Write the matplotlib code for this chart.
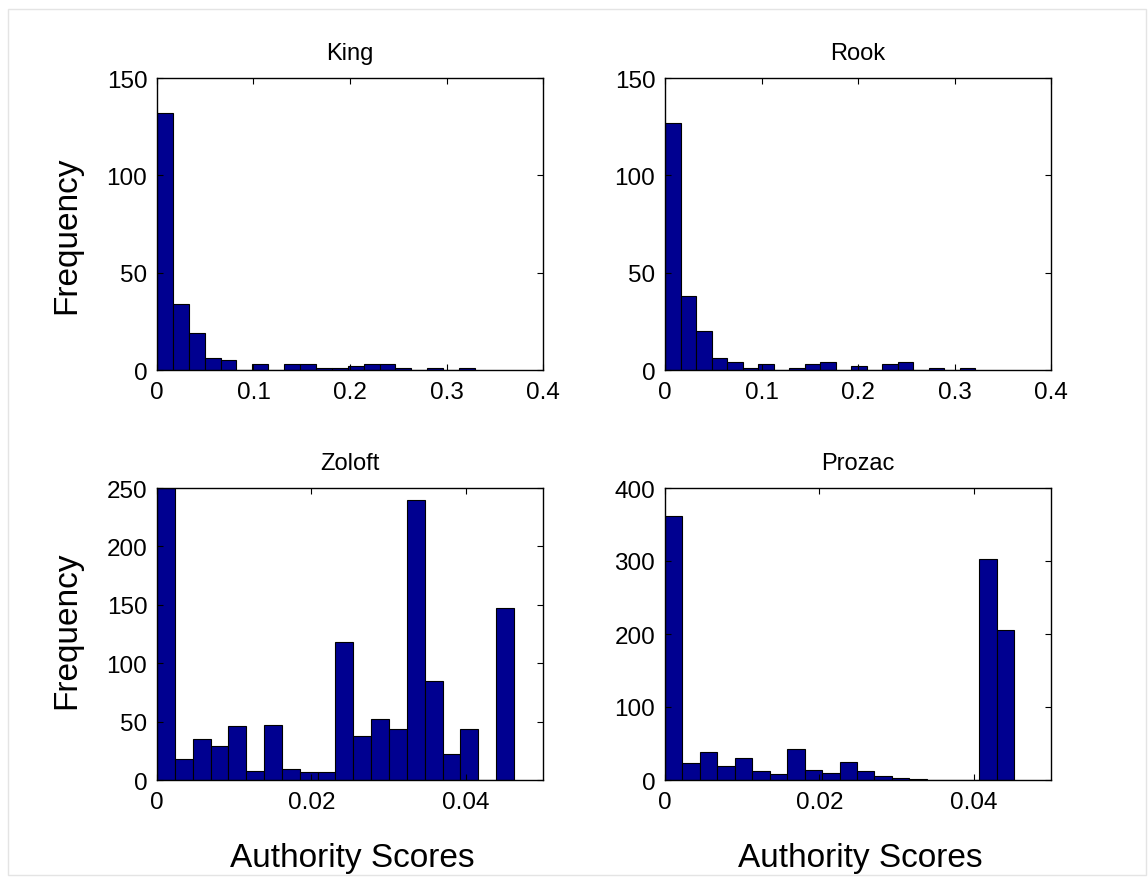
import numpy as np
import matplotlib
matplotlib.use("Agg")
import matplotlib.pyplot as plt
from matplotlib.patches import Rectangle

plt.rcParams['font.family'] = ['Liberation Sans', 'DejaVu Sans']

titles = ["King", "Rook", "Zoloft", "Prozac"]
king_counts = [132, 34, 19, 6, 5, 0, 3, 0, 3, 3, 1, 1, 2, 3, 3, 1, 0, 1, 0, 1]
rook_counts = [127, 38, 20, 6, 4, 1, 3, 0, 1, 3, 4, 0, 2, 0, 3, 4, 0, 1, 0, 1]
zoloft_counts = [250, 18, 35, 29, 46, 8, 47, 9, 7, 7, 118, 38, 52, 44, 240, 85, 22, 44, 0, 147]
prozac_counts = [362, 23, 38, 19, 30, 12, 8, 43, 14, 10, 24, 13, 5, 3, 1, 0, 0, 0, 303, 206]
max_scores = [0.3295, 0.3216, 0.04624, 0.04522]
xlims = [0.4, 0.4, 0.05, 0.05]
ylims = [150, 150, 250, 400]
xticks = [[0, 0.1, 0.2, 0.3, 0.4], [0, 0.1, 0.2, 0.3, 0.4], [0, 0.02, 0.04], [0, 0.02, 0.04]]
xticklabels = [["0", "0.1", "0.2", "0.3", "0.4"], ["0", "0.1", "0.2", "0.3", "0.4"],
               ["0", "0.02", "0.04"], ["0", "0.02", "0.04"]]
yticks = [[0, 50, 100, 150], [0, 50, 100, 150], [0, 50, 100, 150, 200, 250], [0, 100, 200, 300, 400]]
all_counts = [king_counts, rook_counts, zoloft_counts, prozac_counts]

W, H = 1148, 878
fig = plt.figure(figsize=(W / 100, H / 100), dpi=100)
fig.patches.append(Rectangle((8 / W, 2 / H), 1138 / W, 866 / H, transform=fig.transFigure,
                             fill=False, edgecolor='#e4e4e4', linewidth=1))

boxes = [(157, 79), (665, 79), (157, 489), (665, 489)]
aw, ah = 386, 292
bar_color = '#000090'

for i in range(4):
    L, T = boxes[i]
    ax = fig.add_axes([L / W, 1 - (T + ah) / H, aw / W, ah / H])
    counts = np.array(all_counts[i], dtype=float)
    edges = np.linspace(0, max_scores[i], len(counts) + 1)
    ax.bar(edges[:-1], counts, width=np.diff(edges), align='edge',
           color=bar_color, edgecolor='black', linewidth=0.8)
    ax.set_xlim(0, xlims[i])
    ax.set_ylim(0, ylims[i])
    ax.set_xticks(xticks[i])
    ax.set_xticklabels(xticklabels[i])
    ax.set_yticks(yticks[i])
    ax.tick_params(direction='in', length=4, width=0.8, top=True, right=True,
                   labelsize=17.5)
    ax.tick_params(axis='x', pad=8)
    ax.tick_params(axis='y', pad=7)
    for s in ax.spines.values():
        s.set_linewidth(1.0)
    ax.set_title(titles[i], fontsize=17, pad=14)

fig.text(67 / W, 1 - 235 / H, "Frequency", rotation=90, fontsize=24, ha='center', va='center')
fig.text(67 / W, 1 - 630 / H, "Frequency", rotation=90, fontsize=24, ha='center', va='center')
fig.text(352 / W, 1 - 867 / H, "Authority Scores", fontsize=24, ha='center', va='baseline')
fig.text(860 / W, 1 - 867 / H, "Authority Scores", fontsize=24, ha='center', va='baseline')

fig.savefig("out.png", dpi=100)
